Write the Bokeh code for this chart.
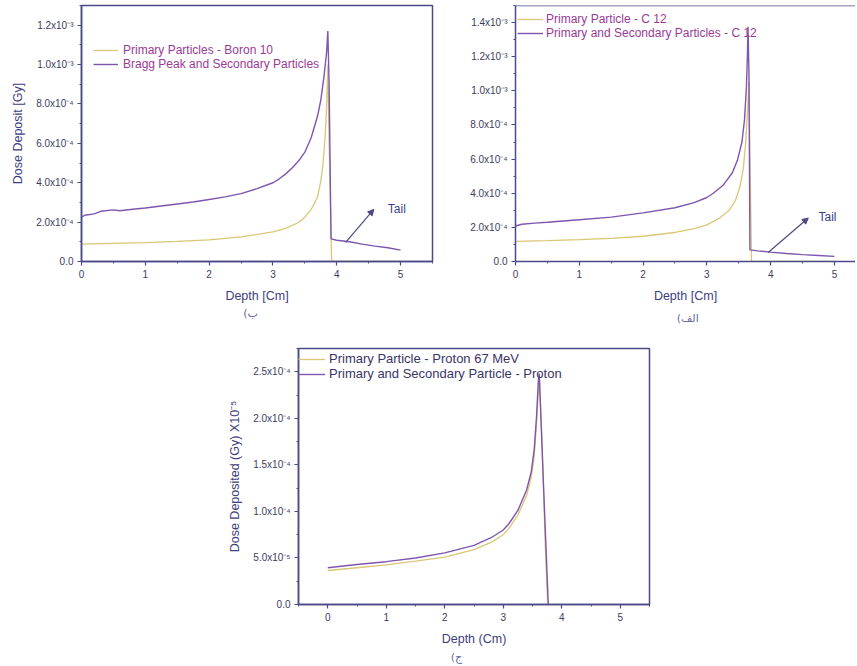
from bokeh.plotting import figure
from bokeh.models import (Range1d, FixedTicker, Legend, LegendItem, Label, Arrow,
                          NormalHead, Span, Spacer)
from bokeh.layouts import column, row
from bokeh.embed import file_html
from bokeh.resources import INLINE

# ---------------- data ----------------
# (ب) Boron 10
boron_x_primary = [0, 0.5, 1.0, 1.5, 2.0, 2.5, 3.0, 3.2, 3.4, 3.5, 3.6, 3.65, 3.7, 3.75, 3.78, 3.8, 3.82,
                   3.84, 3.86, 3.88, 3.92, 4.5, 5.0]
boron_y_primary = [0.88e-4, 0.92e-4, 0.96e-4, 1.02e-4, 1.10e-4, 1.25e-4, 1.50e-4, 1.68e-4, 1.98e-4, 2.25e-4,
                   2.65e-4, 2.95e-4, 3.3e-4, 4.1e-4, 4.8e-4, 5.6e-4, 6.5e-4, 7.8e-4, 10.0e-4, 6.0e-4,
                   0.0, 0.0, 0.0]
boron_x_total = [0, 0.05, 0.2, 0.3, 0.5, 0.6, 0.8, 1.0, 1.25, 1.5, 1.75, 2.0, 2.25, 2.5, 2.75, 3.0, 3.1,
                 3.2, 3.3, 3.4, 3.5, 3.6, 3.7, 3.75, 3.8, 3.84, 3.86, 3.88, 3.91, 4.0, 4.2, 4.4, 4.6,
                 4.8, 5.0]
boron_y_total = [2.25e-4, 2.35e-4, 2.42e-4, 2.55e-4, 2.62e-4, 2.58e-4, 2.65e-4, 2.72e-4, 2.82e-4, 2.92e-4,
                 3.02e-4, 3.15e-4, 3.28e-4, 3.45e-4, 3.70e-4, 4.00e-4, 4.2e-4, 4.45e-4, 4.75e-4, 5.1e-4,
                 5.55e-4, 6.3e-4, 7.4e-4, 8.2e-4, 9.4e-4, 10.6e-4, 11.7e-4, 9.0e-4, 1.15e-4, 1.08e-4,
                 1.0e-4, 0.88e-4, 0.78e-4, 0.70e-4, 0.58e-4]

# (الف) Carbon 12
c12_x_primary = [0, 0.5, 1.0, 1.5, 2.0, 2.5, 2.8, 3.0, 3.2, 3.35, 3.45, 3.52, 3.57, 3.61, 3.64, 3.66,
                 3.68, 3.70, 4.5, 5.0]
c12_y_primary = [1.18e-4, 1.22e-4, 1.28e-4, 1.36e-4, 1.48e-4, 1.70e-4, 1.92e-4, 2.15e-4, 2.55e-4, 3.0e-4,
                 3.6e-4, 4.4e-4, 5.4e-4, 7.0e-4, 9.0e-4, 10.5e-4, 5.0e-4, 0.0, 0.0, 0.0]
c12_x_total = [0, 0.1, 0.3, 0.5, 1.0, 1.5, 2.0, 2.5, 2.8, 3.0, 3.1, 3.25, 3.4, 3.48, 3.55, 3.59, 3.62,
               3.635, 3.645, 3.66, 3.675, 3.8, 4.0, 4.25, 4.5, 4.75, 5.0]
c12_y_total = [2.08e-4, 2.18e-4, 2.25e-4, 2.30e-4, 2.45e-4, 2.60e-4, 2.85e-4, 3.15e-4, 3.45e-4, 3.75e-4,
               4.0e-4, 4.45e-4, 5.2e-4, 5.95e-4, 7.0e-4, 8.3e-4, 10.2e-4, 12.0e-4, 13.75e-4, 11.0e-4,
               0.68e-4, 0.62e-4, 0.55e-4, 0.47e-4, 0.40e-4, 0.35e-4, 0.30e-4]

# (ج) Proton 67 MeV
proton_x_primary = [0, 0.5, 1.0, 1.5, 2.0, 2.5, 2.8, 3.0, 3.1, 3.25, 3.4, 3.48, 3.53, 3.57, 3.6, 3.62,
                    3.66, 3.72, 3.76]
proton_y_primary = [3.65e-5, 3.95e-5, 4.25e-5, 4.65e-5, 5.1e-5, 5.9e-5, 6.7e-5, 7.5e-5, 8.2e-5, 9.6e-5,
                    11.7e-5, 13.7e-5, 16.0e-5, 19.5e-5, 23.0e-5, 24.0e-5, 18.0e-5, 6.0e-5, 0.0]
proton_x_total = [0, 0.5, 1.0, 1.5, 2.0, 2.5, 2.8, 3.0, 3.1, 3.25, 3.4, 3.48, 3.53, 3.57, 3.6, 3.615,
                  3.69, 3.77]
proton_y_total = [3.95e-5, 4.3e-5, 4.6e-5, 5.0e-5, 5.55e-5, 6.35e-5, 7.2e-5, 8.0e-5, 8.7e-5, 10.1e-5,
                  12.3e-5, 14.3e-5, 16.7e-5, 20.3e-5, 24.0e-5, 24.8e-5, 12.5e-5, 0.0]

# ticks
x_ticks = [0, 1, 2, 3, 4, 5]
x_minor = [-0.5, 0.5, 1.5, 2.5, 3.5, 4.5, 5.5]
boron_y_ticks = [0.0, 0.0002, 0.0004, 0.0006, 0.0008, 0.001, 0.0012]
boron_y_labels = ["0.0", "2.0x10⁻⁴", "4.0x10⁻⁴", "6.0x10⁻⁴", "8.0x10⁻⁴", "1.0x10⁻³", "1.2x10⁻³"]
boron_y_minor = [0.0001, 0.0003, 0.0005, 0.0007, 0.0009, 0.0011, 0.0013]
c12_y_ticks = [0.0, 0.0002, 0.0004, 0.0006, 0.0008, 0.001, 0.0012, 0.0014]
c12_y_labels = ["0.0", "2.0x10⁻⁴", "4.0x10⁻⁴", "6.0x10⁻⁴", "8.0x10⁻⁴", "1.0x10⁻³", "1.2x10⁻³", "1.4x10⁻³"]
c12_y_minor = [0.0001, 0.0003, 0.0005, 0.0007, 0.0009, 0.0011, 0.0013, 0.0015]
proton_y_ticks = [0.0, 0.00005, 0.0001, 0.00015, 0.0002, 0.00025]
proton_y_labels = ["0.0", "5.0x10⁻⁵", "1.0x10⁻⁴", "1.5x10⁻⁴", "2.0x10⁻⁴", "2.5x10⁻⁴"]
proton_y_minor = [0.000025, 0.000075, 0.000125, 0.000175, 0.000225, 0.000275]

# ---------------- styling ----------------
NAVY = "#4a4a86"
TICKTXT = "#3c3c5e"
LABEL = "#3d4080"
YELLOW = "#d9c676"
PURPLE = "#7e56ae"
MAGENTA = "#9a3a96"
FONT = "Liberation Sans"


def style(p, yticks, ylabels, yminor, outline=True):
    p.grid.visible = False
    p.outline_line_color = NAVY if outline else None
    p.outline_line_width = 1.5
    p.xaxis.ticker = FixedTicker(ticks=x_ticks, minor_ticks=x_minor)
    p.yaxis.ticker = FixedTicker(ticks=yticks, minor_ticks=yminor)
    p.yaxis.major_label_overrides = dict(zip(yticks, ylabels))
    for ax in list(p.xaxis) + list(p.yaxis):
        ax.axis_line_color = NAVY
        ax.axis_line_width = 1.5
        ax.major_tick_line_color = NAVY
        ax.minor_tick_line_color = NAVY
        ax.major_tick_line_width = 1.2
        ax.major_tick_in = 0
        ax.major_tick_out = 4
        ax.minor_tick_in = 0
        ax.minor_tick_out = 2
        ax.major_label_text_font = FONT
        ax.major_label_text_font_size = "10px"
        ax.major_label_text_color = TICKTXT
        ax.major_label_standoff = 4
        ax.axis_label_text_font = FONT
        ax.axis_label_text_font_size = "12.5px"
        ax.axis_label_text_font_style = "normal"
        ax.axis_label_text_color = LABEL
        ax.axis_label_standoff = 8


def add_legend(p, renderers, labels, loc, color, size, standoff, gw):
    leg = Legend(items=[LegendItem(label=l, renderers=[r]) for l, r in zip(labels, renderers)],
                 location=loc, border_line_color=None, background_fill_alpha=0,
                 padding=0, margin=0, spacing=0, glyph_width=gw, glyph_height=12,
                 label_height=12, label_standoff=standoff,
                 label_text_font=FONT, label_text_font_size=size, label_text_color=color)
    p.add_layout(leg)


def caption(parent, text, x, y_from_bottom, height):
    # a thin strip under a panel that carries its Arabic tag
    c = figure(width=parent.width, height=height, output_backend="svg", toolbar_location=None,
               x_range=parent.x_range, y_range=Range1d(0, height),
               min_border_left=parent.min_border_left, min_border_right=parent.min_border_right,
               min_border_top=0, min_border_bottom=0,
               x_axis_location=None, y_axis_location=None)
    c.outline_line_color = None
    c.grid.visible = False
    c.add_layout(Label(x=x, y=y_from_bottom, text=text, text_font="DejaVu Sans",
                       text_font_size="11px", text_color="#6a6aa0", text_align="center",
                       text_baseline="middle"))
    return c


def tail(p, xs, ys, xe, ye, tx, ty):
    p.add_layout(Arrow(end=NormalHead(size=6, fill_color=NAVY, line_color=NAVY),
                       x_start=xs, y_start=ys, x_end=xe, y_end=ye,
                       line_color=NAVY, line_width=1.2))
    p.add_layout(Label(x=tx, y=ty, text="Tail", text_font=FONT, text_font_size="12px",
                       text_color="#3a3f8a", text_baseline="middle"))


# ---- (ب) Boron ----
p1 = figure(width=440, height=307, output_backend="svg", toolbar_location=None,
            x_range=Range1d(0, 5.5), y_range=Range1d(0, 1.3e-3),
            min_border_left=81, min_border_right=8, min_border_top=5, min_border_bottom=46,
            x_axis_label="Depth [Cm]", y_axis_label="Dose Deposit [Gy]")
r1a = p1.line(boron_x_primary, boron_y_primary, line_color=YELLOW, line_width=1.3)
r1b = p1.line(boron_x_total, boron_y_total, line_color=PURPLE, line_width=1.4)
style(p1, boron_y_ticks, boron_y_labels, boron_y_minor)
add_legend(p1, [r1a, r1b], ["Primary Particles - Boron 10", "Bragg Peak and Secondary Particles"],
           (12, 190), MAGENTA, "12px", 5, 25)
tail(p1, 4.14, 0.97e-4, 4.58, 2.65e-4, 4.8, 2.65e-4)
cap1 = caption(p1, "(ب", 2.65, 13, 19)

# ---- (الف) Carbon 12 ----
p2 = figure(width=415, height=307, output_backend="svg", toolbar_location=None,
            x_range=Range1d(0, 5.33), y_range=Range1d(0, 1.5e-3),
            min_border_left=75, min_border_right=0, min_border_top=5, min_border_bottom=46,
            x_axis_label="Depth [Cm]")
r2a = p2.line(c12_x_primary, c12_y_primary, line_color=YELLOW, line_width=1.3)
r2b = p2.line(c12_x_total, c12_y_total, line_color=PURPLE, line_width=1.4)
style(p2, c12_y_ticks, c12_y_labels, c12_y_minor, outline=False)
p2.add_layout(Span(location=1.5e-3, dimension="width", line_color=NAVY, line_width=1.5))
add_legend(p2, [r2a, r2b], ["Primary Particle - C 12", "Primary and Secondary Particles - C 12"],
           (2, 221), MAGENTA, "12px", 3, 26)
tail(p2, 3.96, 0.53e-4, 4.59, 2.55e-4, 4.75, 2.6e-4)
cap2 = caption(p2, "(الف", 2.7, 8, 19)

# ---- (ج) Proton ----
p3 = figure(width=444, height=322, output_backend="svg", toolbar_location=None,
            x_range=Range1d(-0.5, 5.5), y_range=Range1d(0, 2.75e-4),
            min_border_left=83, min_border_right=10, min_border_top=22, min_border_bottom=44,
            x_axis_label="Depth (Cm)", y_axis_label="Dose Deposited (Gy) X10⁻⁵")
r3a = p3.line(proton_x_primary, proton_y_primary, line_color=YELLOW, line_width=1.3)
r3b = p3.line(proton_x_total, proton_y_total, line_color=PURPLE, line_width=1.4)
style(p3, proton_y_ticks, proton_y_labels, proton_y_minor)
add_legend(p3, [r3a, r3b], ["Primary Particle - Proton 67 MeV", "Primary and Secondary Particle - Proton"],
           (0, 223), "#3a3566", "13px", 4, 27)
cap3 = caption(p3, "(ج", 2.2, 9, 18)

layout = column(row(column(p1, cap1), column(p2, cap2)),
                row(Spacer(width=215, height=10), column(p3, cap3)))

open("out.html", "w").write(file_html(layout, INLINE))
